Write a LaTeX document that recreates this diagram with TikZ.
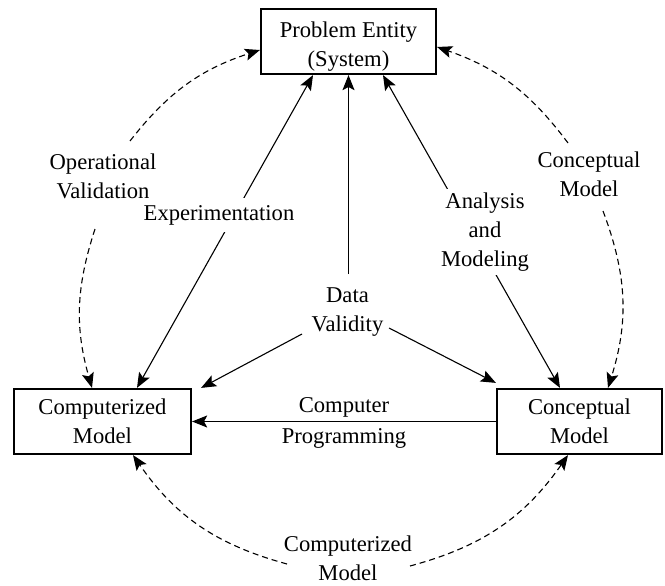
\documentclass[tikz,border=0pt]{standalone}
\usepackage{fontspec}
\setmainfont{Liberation Serif}
\usetikzlibrary{arrows.meta}
\begin{document}
\begin{tikzpicture}[x=1pt,y=-1pt,
  txt/.style={font=\fontsize{22.6}{29}\selectfont, align=center, inner sep=2pt},
  boxnode/.style={txt, draw, line width=2.2pt, minimum height=65pt},
  tip/.tip={Stealth[length=15pt,width=12pt,inset=3pt]},
  conn/.style={line width=1.1pt, -tip},
  dconn/.style={conn, dash pattern=on 6pt off 4pt},
  twoway/.style={line width=1.1pt, tip-tip},
  cover/.style={txt, fill=white}]
\useasboundingbox (0,0) rectangle (665,586);

% boxes
\node[boxnode, minimum width=175pt] (prob) at (348.5,41.5) {\rule{0pt}{25pt}Problem Entity\\(System)};
\node[boxnode, minimum width=177pt] (comp) at (102.5,421.5) {Computerized\\Model};
\node[boxnode, minimum width=165pt] (conc) at (579.5,421.5) {Conceptual\\Model};

% labels not lying on lines
\node[txt] (opv) at (103,176) {Operational\\Validation};
\node[txt] (cml) at (589,174) {Conceptual\\Model};
\node[txt] (data) at (347.5,312) {Data\\Validity};
\node[txt] (bcm) at (348,558) {Computerized\\Model};

% solid connectors
\coordinate (dtop) at ([shift={(1,-38)}]data.center);
\draw[twoway] ([shift={(34.5,0)}]comp.north) -- ([shift={(-35.5,0)}]prob.south);
\draw[twoway] ([shift={(34.5,0)}]prob.south) -- ([shift={(-19.5,0)}]conc.north);
\draw[conn] (dtop) -- (dtop |- prob.south);
\draw[conn] ([shift={(-45.5,22)}]data.center) -- ([shift={(9,0)}]comp.north east);
\draw[conn] ([shift={(41.5,16)}]data.center) -- ([shift={(0,-5)}]conc.north west);
\draw[conn] (conc.west) -- node[txt, above, inner sep=4pt] (cp1) {Computer}
  node[txt, below, inner sep=6pt] (cp2) {Programming} (comp.east);

% labels over lines
\node[cover, inner ysep=7pt] (exp) at (219,215) {Experimentation};
\node[cover, inner ysep=4pt] (ana) at (485,232) {Analysis\\and\\Modeling};

% dashed connectors
\draw[dconn] ([shift={(27,-35)}]opv.center) to[bend left=17] ([shift={(0,8.5)}]prob.west);
\draw[dconn] ([shift={(-8,53)}]opv.center) to[bend right=17] ([shift={(-10.5,0)}]comp.north);
\draw[dconn] ([shift={(-61,6)}]bcm.center) to[bend left=20] ([shift={(30.5,0)}]comp.south);
\draw[dconn] ([shift={(62,8)}]bcm.center) to[bend right=20] ([shift={(-11.5,0)}]conc.south);
\draw[dconn] ([shift={(14,37)}]cml.center) to[bend left=19] ([shift={(28.5,0)}]conc.north);
\draw[dconn] ([shift={(-21,-31)}]cml.center) to[bend right=17] ([shift={(0,5.5)}]prob.east);
\end{tikzpicture}
\end{document}
